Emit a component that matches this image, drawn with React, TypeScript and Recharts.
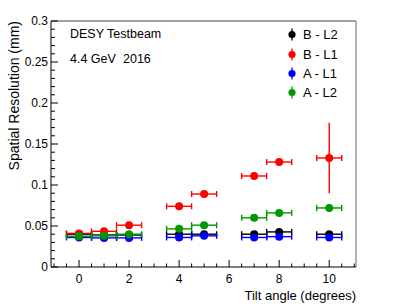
import { ScatterChart, Scatter, XAxis, YAxis, ErrorBar, ReferenceLine, Legend } from 'recharts';

// tilt angles (deg) and their bin half-width
const angles = [0, 1, 2, 4, 5, 7, 8, 10];
const angleErr = [0.5, 0.5, 0.5, 0.5, 0.5, 0.5, 0.5, 0.5];

// spatial resolution (mm) per detector/layer
const resBL2 = [0.04, 0.039, 0.039, 0.04, 0.04, 0.04, 0.0428, 0.04];
const resBL1 = [0.041, 0.0435, 0.051, 0.074, 0.089, 0.111, 0.128, 0.133];
const resAL1 = [0.036, 0.0355, 0.0355, 0.036, 0.038, 0.036, 0.037, 0.036];
const resAL2 = [0.0375, 0.038, 0.04, 0.0465, 0.051, 0.06, 0.066, 0.072];

const errBL2 = [0.001, 0.001, 0.001, 0.001, 0.001, 0.001, 0.001, 0.001];
const errBL1 = [0.001, 0.001, 0.0015, 0.002, 0.002, 0.002, 0.002, 0.043];
const errAL1 = [0.001, 0.001, 0.001, 0.001, 0.001, 0.001, 0.001, 0.001];
const errAL2 = [0.001, 0.001, 0.001, 0.001, 0.001, 0.001, 0.001, 0.001];

const xMajorTicks = [0, 2, 4, 6, 8, 10];
const yMajorTicks = [0, 0.05, 0.1, 0.15, 0.2, 0.25, 0.3];
const yTickLabels = ['0', '0.05', '0.1', '0.15', '0.2', '0.25', '0.3'];

const X_DOMAIN: [number, number] = [-1.12, 11.07];
const Y_DOMAIN: [number, number] = [0, 0.3];

// minor ticks: every 0.5 on x, every 0.01 on y
const xTicks: number[] = [];
for (let i = -2; i <= 22; i++) xTicks.push(i / 2);
const yTicks: number[] = [];
for (let i = 0; i <= 30; i++) yTicks.push(i / 100);

const FONT = '"Liberation Sans", Arial, Helvetica, sans-serif';

const makeData = (res: number[], err: number[]) =>
  angles.map((a, i) => ({ x: a, y: res[i], ex: angleErr[i], ey: err[i] }));

// drawing order = legend order
const series = [
  { name: 'B - L2', color: '#000000', data: makeData(resBL2, errBL2) },
  { name: 'B - L1', color: '#ff0000', data: makeData(resBL1, errBL1) },
  { name: 'A - L1', color: '#0000ff', data: makeData(resAL1, errAL1) },
  { name: 'A - L2', color: '#009900', data: makeData(resAL2, errAL2) },
];

const isMajorX = (v: number) => xMajorTicks.includes(v);
const majorYIndex = (v: number) =>
  yMajorTicks.findIndex((t) => Math.abs(t - v) < 1e-6);

const XTick = (props: any) => {
  const { x, y, payload } = props;
  const major = isMajorX(payload.value);
  return (
    <g>
      <line x1={x} x2={x} y1={y} y2={y - (major ? 7 : 3.5)} stroke="#000" strokeWidth={1} />
      {major && (
        <text x={x} y={y + 15.5} textAnchor="middle" fontSize={12} fontFamily={FONT} fill="#000">
          {payload.value}
        </text>
      )}
    </g>
  );
};

const YTick = (props: any) => {
  const { x, y, payload } = props;
  const idx = majorYIndex(payload.value);
  const major = idx >= 0;
  return (
    <g>
      <line x1={x} x2={x + (major ? 7 : 4)} y1={y} y2={y} stroke="#000" strokeWidth={1} />
      {major && (
        <text x={x - 3} y={y + 4.2} textAnchor="end" fontSize={12} fontFamily={FONT} fill="#000">
          {yTickLabels[idx]}
        </text>
      )}
    </g>
  );
};

const LegendBox = () => (
  <div style={{ fontFamily: FONT, fontSize: 13, color: '#000' }}>
    {series.map((s) => (
      <div key={s.name} style={{ display: 'flex', alignItems: 'center', height: 19.4 }}>
        <svg width={16} height={19} style={{ display: 'block' }}>
          <line x1={8} x2={8} y1={3.5} y2={15.5} stroke={s.color} strokeWidth={1.3} />
          <circle cx={8} cy={9.5} r={3.6} fill={s.color} />
        </svg>
        <span style={{ marginLeft: 3, whiteSpace: 'pre' }}>{s.name}</span>
      </div>
    ))}
  </div>
);

export default function App() {
  return (
    <div
      style={{
        position: 'fixed',
        left: 0,
        top: 0,
        width: 407,
        height: 308,
        background: '#fff',
      }}
    >
      <ScatterChart
        width={407}
        height={308}
        margin={{ top: 21, right: 51, bottom: 11, left: 11 }}
      >
        <XAxis
          type="number"
          dataKey="x"
          domain={X_DOMAIN}
          ticks={xTicks}
          interval={0}
          height={30}
          tickSize={0}
          tickMargin={0}
          tickLine={false}
          axisLine={{ stroke: '#000', strokeWidth: 1 }}
          tick={(p: any) => <XTick {...p} />}
          allowDataOverflow
        />
        <YAxis
          type="number"
          dataKey="y"
          domain={Y_DOMAIN}
          ticks={yTicks}
          interval={0}
          width={40}
          tickSize={0}
          tickMargin={0}
          tickLine={false}
          axisLine={{ stroke: '#000', strokeWidth: 1 }}
          tick={(p: any) => <YTick {...p} />}
          allowDataOverflow
        />
        <ReferenceLine y={0.3} stroke="#444" strokeWidth={1} />
        <ReferenceLine x={X_DOMAIN[1]} stroke="#999" strokeWidth={1.5} />
        {series.map((s) => (
          <Scatter
            key={s.name}
            name={s.name}
            data={s.data}
            fill={s.color}
            isAnimationActive={false}
            shape={(p: any) => <circle cx={p.cx} cy={p.cy} r={4} fill={s.color} />}
          >
            <ErrorBar dataKey="ex" direction="x" width={3} stroke={s.color} strokeWidth={1.4} isAnimationActive={false} />
            <ErrorBar dataKey="ey" direction="y" width={0} stroke={s.color} strokeWidth={1.4} isAnimationActive={false} />
          </Scatter>
        ))}
        <Legend
          layout="vertical"
          align="center"
          verticalAlign="middle"
          wrapperStyle={{ left: 284, top: 25, width: 72 }}
          content={() => <LegendBox />}
        />
      </ScatterChart>
      <svg
        width={407}
        height={308}
        style={{ position: 'absolute', left: 0, top: 0, pointerEvents: 'none' }}
        fontFamily={FONT}
      >
        <text x={70} y={37.5} fontSize={12.5} fill="#000">DESY Testbeam</text>
        <text x={70} y={63} fontSize={12.5} fill="#000">4.4 GeV</text>
        <text x={123} y={63} fontSize={12.5} fill="#000">2016</text>
        <text transform="rotate(-90)" x={-21} y={19} textAnchor="end" fontSize={14} fill="#000">
          Spatial Resolution (mm)
        </text>
        <text x={356} y={300} textAnchor="end" fontSize={13} fill="#000">
          Tilt angle (degrees)
        </text>
      </svg>
    </div>
  );
}
